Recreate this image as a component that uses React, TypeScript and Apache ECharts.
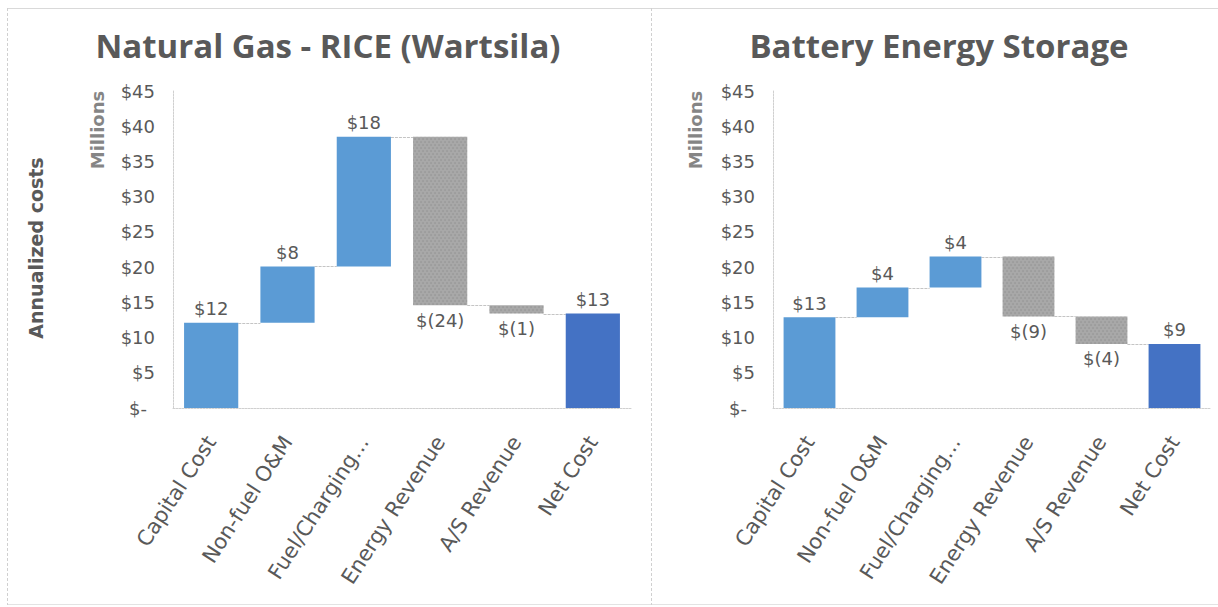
import React, { useEffect, useRef } from 'react';
import * as echarts from 'echarts';

const categories = ['Capital Cost', 'Non-fuel O&M', 'Fuel/Charging…', 'Energy Revenue', 'A/S Revenue', 'Net Cost'];
const gasSteps = [12.1, 8.0, 18.4, -23.9, -1.2];
const gasNet = 13.4;
const batterySteps = [12.9, 4.2, 4.4, -8.5, -3.9];
const batteryNet = 9.1;
const titles = ['Natural Gas - RICE (Wartsila)', 'Battery Energy Storage'];
const yMax = 45;
const yInterval = 5;
const unitLabel = 'Millions';
const yAxisTitle = 'Annualized costs';

const FONT = "'DejaVu Sans', sans-serif";
const TITLE_FONT = "'Open Sans', 'DejaVu Sans', sans-serif";
const TXT = '#595959';
const BLUE = '#5b9bd5';
const NAVY = '#4472c4';
const GREY = '#a8a8a8';

function buildWaterfall(steps: number[], net: number) {
  const base: number[] = [];
  const height: number[] = [];
  const raw: number[] = [];
  const levels: number[][] = [];
  let cum = 0;
  steps.forEach((v, i) => {
    const end = cum + v;
    base.push(Math.min(cum, end));
    height.push(Math.abs(v));
    raw.push(v);
    levels.push([i, end]);
    cum = end;
  });
  base.push(0);
  height.push(net);
  raw.push(net);
  return { base, height, raw, levels };
}

const fmtVal = (v: number) => (v >= 0 ? '$' + Math.round(v) : '$(' + Math.round(-v) + ')');

export default function App() {
  const ref = useRef<HTMLDivElement>(null);
  useEffect(() => {
    if (!ref.current) return;
    const chart = echarts.init(ref.current, null, { renderer: 'svg' });
    const sets = [buildWaterfall(gasSteps, gasNet), buildWaterfall(batterySteps, batteryNet)];
    const grids = [
      { left: 173, top: 91, width: 458, height: 317 },
      { left: 773, top: 91, width: 438, height: 317 },
    ];
    const series: any[] = [];
    const xAxes: any[] = [];
    const yAxes: any[] = [];
    sets.forEach((s, gi) => {
      xAxes.push({
        type: 'category',
        gridIndex: gi,
        data: categories,
        axisLine: { show: true, lineStyle: { color: '#d0d0d0', type: [2, 1], width: 1 } },
        axisTick: { show: false },
        axisLabel: {
          interval: 0,
          rotate: 57,
          margin: 30,
          fontSize: 21,
          color: TXT,
          fontFamily: FONT,
        },
      });
      yAxes.push({
        type: 'value',
        gridIndex: gi,
        min: 0,
        max: yMax,
        interval: yInterval,
        splitLine: { show: false },
        axisTick: { show: false },
        axisLine: { show: true, lineStyle: { color: '#d0d0d0', type: [2, 1], width: 1 } },
        axisLabel: {
          margin: 18,
          fontSize: 18,
          color: TXT,
          fontFamily: FONT,
          formatter: (v: number) => (v === 0 ? '{z|$-}' : '$' + v),
          rich: { z: { fontSize: 18, color: TXT, fontFamily: FONT, padding: [0, 8, 0, 0] } },
        },
      });
      series.push({
        type: 'bar',
        xAxisIndex: gi,
        yAxisIndex: gi,
        stack: 'w' + gi,
        barWidth: '71%',
        silent: true,
        itemStyle: { color: 'transparent' },
        data: s.base,
      });
      series.push({
        type: 'bar',
        xAxisIndex: gi,
        yAxisIndex: gi,
        stack: 'w' + gi,
        barWidth: '71%',
        data: s.height.map((h, i) => {
          const r = s.raw[i];
          const isNet = i === s.height.length - 1;
          const neg = r < 0;
          return {
            value: h,
            itemStyle: neg
              ? {
                  color: GREY,
                  decal: {
                    symbol: 'circle',
                    symbolSize: 0.7,
                    color: 'rgba(110,110,110,0.45)',
                    dashArrayX: [[2, 2], [0, 2, 2, 0]],
                    dashArrayY: [2, 1],
                  },
                }
              : { color: isNet ? NAVY : BLUE },
            label: {
              show: true,
              position: neg ? 'bottom' : 'top',
              distance: neg ? 6 : 5,
              formatter: fmtVal(r),
              fontSize: 18,
              color: TXT,
              fontFamily: FONT,
            },
          };
        }),
      });
      series.push({
        type: 'custom',
        xAxisIndex: gi,
        yAxisIndex: gi,
        silent: true,
        encode: { x: 0, y: 1 },
        data: s.levels,
        renderItem: (params: any, api: any) => {
          const i = api.value(0);
          const lvl = api.value(1);
          const p1 = api.coord([i, lvl]);
          const p2 = api.coord([i + 1, lvl]);
          const bw = api.size([1, 0])[0] * 0.71;
          const y = Math.round(p1[1]) + 0.5;
          return {
            type: 'line',
            shape: { x1: p1[0] + bw / 2, y1: y, x2: p2[0] - bw / 2, y2: y },
            style: { stroke: '#c4c4c4', lineWidth: 1, lineDash: [3, 1] },
          };
        },
      });
    });

    const graphic: any[] = [
      { type: 'line', shape: { x1: 7, y1: 8.5, x2: 1218, y2: 8.5 }, style: { stroke: '#d9d9d9', lineWidth: 1 } },
      { type: 'line', shape: { x1: 7, y1: 604.5, x2: 1218, y2: 604.5 }, style: { stroke: '#e3e3e3', lineWidth: 1 } },
      { type: 'line', shape: { x1: 7.5, y1: 8, x2: 7.5, y2: 605 }, style: { stroke: '#d0d0d0', lineWidth: 1, lineDash: [3, 2] } },
      { type: 'line', shape: { x1: 651.5, y1: 8, x2: 651.5, y2: 605 }, style: { stroke: '#d0d0d0', lineWidth: 1, lineDash: [3, 2] } },
      {
        type: 'text', x: 328, y: 45,
        style: { text: titles[0], fill: TXT, font: `bold 33px ${TITLE_FONT}`, textAlign: 'center', textVerticalAlign: 'middle' },
      },
      {
        type: 'text', x: 939, y: 45,
        style: { text: titles[1], fill: TXT, font: `bold 33px ${TITLE_FONT}`, textAlign: 'center', textVerticalAlign: 'middle' },
      },
      {
        type: 'text', x: 97, y: 130, rotation: Math.PI / 2,
        style: { text: unitLabel, fill: '#858585', font: `bold 18px ${FONT}`, textAlign: 'center', textVerticalAlign: 'middle' },
      },
      {
        type: 'text', x: 695, y: 130, rotation: Math.PI / 2,
        style: { text: unitLabel, fill: '#858585', font: `bold 18px ${FONT}`, textAlign: 'center', textVerticalAlign: 'middle' },
      },
      {
        type: 'text', x: 36, y: 248, rotation: Math.PI / 2,
        style: { text: yAxisTitle, fill: TXT, font: `bold 19px ${FONT}`, textAlign: 'center', textVerticalAlign: 'middle' },
      },
    ];

    chart.setOption({
      animation: false,
      backgroundColor: '#ffffff',
      grid: grids,
      xAxis: xAxes,
      yAxis: yAxes,
      series,
      graphic,
    });
    return () => chart.dispose();
  }, []);
  return <div ref={ref} style={{ position: 'absolute', left: 0, top: 0, width: 1218, height: 607, background: '#fff' }} />;
}
